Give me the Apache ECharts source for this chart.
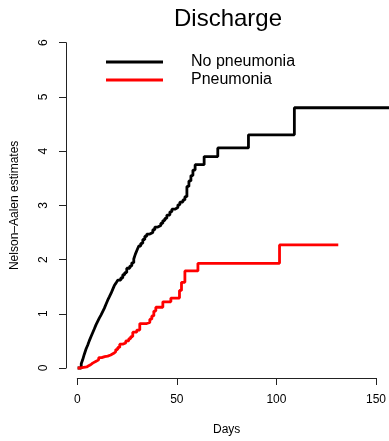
<!DOCTYPE html>
<html>
<head>
<meta charset="utf-8">
<script src="https://cdn.jsdelivr.net/npm/echarts@6/dist/echarts.min.js"></script>
<style>html,body{margin:0;padding:0;background:#fff}#c{width:389px;height:441px}</style>
</head>
<body>
<div id="c"></div>
<script>
var chartTitle = 'Discharge';
var xAxisName = 'Days';
var yAxisName = 'Nelson\u2013Aalen estimates';
var seriesNames = ['No pneumonia', 'Pneumonia'];
var xTicks = [0, 50, 100, 150];
var yTicks = [0, 1, 2, 3, 4, 5, 6];

var noPneuDays = [0, 1.8, 2.5, 3.3, 4.2, 5.0, 5.8, 6.7, 7.5, 8.3, 9.2, 10.0, 10.8, 11.7, 12.5, 13.3, 14.2, 15.0, 15.8, 16.7, 17.5, 18.3, 19.2, 20.0, 21.5, 22.5, 23.5, 24.5, 26.0, 27.0, 28.0, 28.8, 29.7, 30.5, 31.5, 32.5, 33.5, 34.5, 36.0, 37.5, 38.5, 40.0, 41.5, 42.5, 43.5, 44.5, 46.0, 47.0, 48.5, 50.0, 51.0, 52.5, 53.5, 54.5, 55.5, 56.5, 57.5, 58.6, 63.1, 69.9, 85.2, 108.1, 160];
var noPneuValues = [0, 0.08, 0.15, 0.25, 0.35, 0.42, 0.50, 0.58, 0.65, 0.72, 0.80, 0.86, 0.92, 0.98, 1.04, 1.10, 1.18, 1.25, 1.31, 1.38, 1.45, 1.52, 1.57, 1.62, 1.66, 1.72, 1.76, 1.84, 1.88, 1.94, 2.01, 2.10, 2.18, 2.25, 2.30, 2.37, 2.43, 2.47, 2.50, 2.55, 2.60, 2.63, 2.67, 2.72, 2.76, 2.82, 2.88, 2.93, 2.96, 3.01, 3.06, 3.10, 3.16, 3.35, 3.45, 3.55, 3.65, 3.75, 3.90, 4.06, 4.30, 4.80, 4.80];

var pneuDays = [0, 1.5, 3, 4.5, 5.5, 6.5, 7.5, 9, 10.5, 12, 13.5, 15, 16.5, 18, 19, 20, 21, 22.5, 24, 25.5, 26.5, 27.5, 29.5, 31, 34.5, 36, 37, 38, 39, 42.5, 46.5, 50.8, 51.8, 53.5, 60, 100.7, 130];
var pneuValues = [0, 0.01, 0.02, 0.04, 0.06, 0.09, 0.12, 0.15, 0.19, 0.21, 0.22, 0.24, 0.27, 0.30, 0.34, 0.38, 0.44, 0.46, 0.50, 0.54, 0.58, 0.66, 0.70, 0.82, 0.84, 0.90, 0.96, 1.05, 1.12, 1.22, 1.29, 1.43, 1.58, 1.79, 1.93, 2.27, 2.27];

function zip(a, b) { return a.map(function (v, i) { return [v, b[i]]; }); }

var font = 'Liberation Sans, Arial, Helvetica, sans-serif';
var chart = echarts.init(document.getElementById('c'), null, {renderer: 'canvas'});
chart.setOption({
  animation: false,
  backgroundColor: '#ffffff',
  textStyle: {fontFamily: font},
  graphic: [{
    type: 'text', x: 228, y: 19,
    style: {text: chartTitle, fontSize: 24, fontFamily: font, fill: '#000', textAlign: 'center', textVerticalAlign: 'middle'}
  }],
  legend: {
    data: seriesNames,
    orient: 'vertical',
    left: 106, top: 53,
    padding: 0,
    icon: 'rect',
    itemWidth: 57, itemHeight: 3,
    itemGap: 0,
    textStyle: {fontSize: 16, lineHeight: 18, color: '#000', fontFamily: font, padding: [0, 0, 0, 23]}
  },
  grid: [
    {left: 66, top: 29.7, width: 323.3, height: 351.3},
    {left: 77.3, top: 29.7, width: 301, height: 351.3},
    {left: 66, top: 42.7, width: 100, height: 325.3}
  ],
  xAxis: [
    {type: 'value', gridIndex: 0, min: -5.8, max: 155.3, show: false},
    {type: 'value', gridIndex: 1, min: xTicks[0], max: xTicks[xTicks.length - 1], interval: 50,
      axisLine: {show: true, lineStyle: {color: '#222', width: 1}},
      axisTick: {show: true, length: 7, lineStyle: {color: '#222'}},
      axisLabel: {fontSize: 12, color: '#000', margin: 16, fontFamily: font},
      splitLine: {show: false},
      name: xAxisName, nameLocation: 'middle', nameGap: 46,
      nameTextStyle: {fontSize: 12, color: '#000', fontFamily: font}},
    {type: 'value', gridIndex: 2, show: false}
  ],
  yAxis: [
    {type: 'value', gridIndex: 0, min: -0.24, max: 6.24, show: false},
    {type: 'value', gridIndex: 1, show: false},
    {type: 'value', gridIndex: 2, min: yTicks[0], max: yTicks[yTicks.length - 1], interval: 1,
      axisLine: {show: true, lineStyle: {color: '#222', width: 1}},
      axisTick: {show: true, length: 7, lineStyle: {color: '#222'}},
      axisLabel: {fontSize: 12, color: '#000', margin: 16, rotate: 90, fontFamily: font},
      splitLine: {show: false},
      name: yAxisName, nameLocation: 'middle', nameGap: 45, nameRotate: 90,
      nameTextStyle: {fontSize: 12, color: '#000', fontFamily: font}}
  ],
  series: [
    {name: seriesNames[0], type: 'line', xAxisIndex: 0, yAxisIndex: 0, step: 'end',
      data: zip(noPneuDays, noPneuValues), symbol: 'none', showSymbol: false,
      color: '#000', lineStyle: {color: '#000', width: 2.8}, clip: true},
    {name: seriesNames[1], type: 'line', xAxisIndex: 0, yAxisIndex: 0, step: 'end',
      data: zip(pneuDays, pneuValues), symbol: 'none', showSymbol: false,
      color: '#ff0000', lineStyle: {color: '#ff0000', width: 2.8}, clip: true}
  ]
});
</script>
</body>
</html>
